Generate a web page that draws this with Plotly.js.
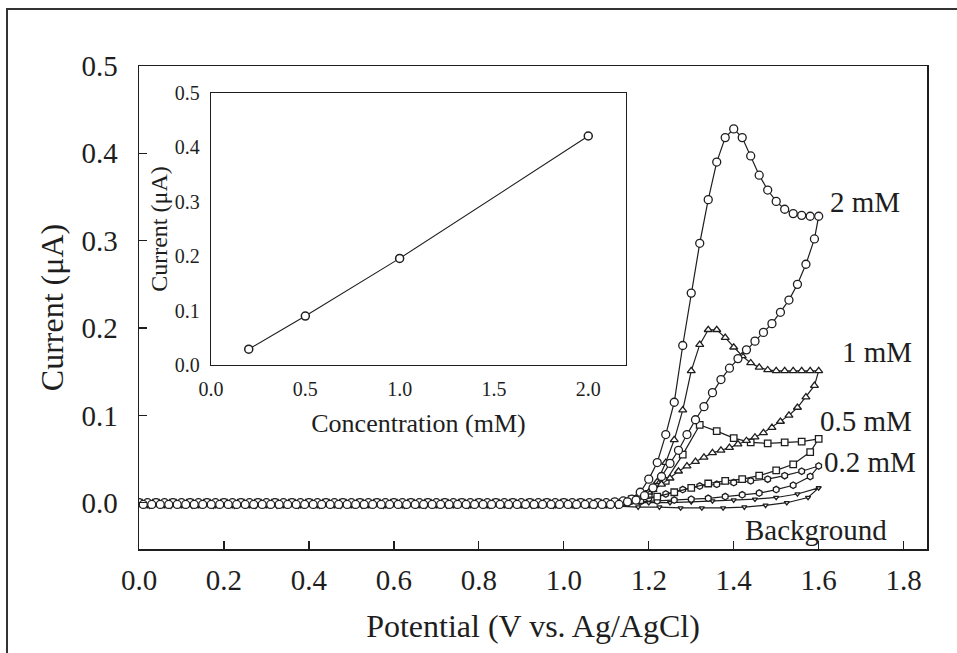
<!DOCTYPE html>
<html>
<head>
<meta charset="utf-8">
<script src="https://cdn.plot.ly/plotly-3.0.1.min.js"></script>
<style>
html,body{margin:0;padding:0;background:#fff;}
#chart{width:957px;height:653px;}
</style>
</head>
<body>
<div id="chart"></div>
<script>
// ---------- Potential sweeps (V vs. Ag/AgCl) ----------
const E_fwd_a = [0,0.02,0.04,0.06,0.08,0.1,0.12,0.14,0.16,0.18,0.2,0.22,0.24,0.26,0.28,0.3,0.32,0.34,0.36,0.38,0.4,0.42,0.44,0.46,0.48,0.5,0.52,0.54,0.56,0.58,0.6,0.62,0.64,0.66,0.68,0.7,0.72,0.74,0.76,0.78,0.8,0.82,0.84,0.86,0.88,0.9,0.92,0.94,0.96,0.98,1,1.02,1.04,1.06,1.08,1.1,1.12,1.14,1.16,1.18,1.2,1.22,1.24,1.26,1.28,1.3,1.32,1.34,1.36,1.38,1.4,1.42,1.44,1.46,1.48,1.5,1.52,1.54,1.56,1.58,1.6];
const E_rev_a = [1.59,1.57,1.55,1.53,1.51,1.49,1.47,1.45,1.43,1.41,1.39,1.37,1.35,1.33,1.31,1.29,1.27,1.25,1.23,1.21,1.19,1.17,1.15,1.13,1.11,1.09,1.07,1.05,1.03,1.01,0.99,0.97,0.95,0.93,0.91,0.89,0.87,0.85,0.83,0.81,0.79,0.77,0.75,0.73,0.71,0.69,0.67,0.65,0.63,0.61,0.59,0.57,0.55,0.53,0.51,0.49,0.47,0.45,0.43,0.41,0.39,0.37,0.35,0.33,0.31,0.29,0.27,0.25,0.23,0.21,0.19,0.17,0.15,0.13,0.11,0.09,0.07,0.05,0.03,0.01];
const E_fwd_b = [0,0.04,0.08,0.12,0.16,0.2,0.24,0.28,0.32,0.36,0.4,0.44,0.48,0.52,0.56,0.6,0.64,0.68,0.72,0.76,0.8,0.84,0.88,0.92,0.96,1,1.04,1.08,1.12,1.16,1.2,1.24,1.28,1.32,1.36,1.4,1.44,1.48,1.52,1.56,1.6];
const E_rev_b = [1.58,1.54,1.5,1.46,1.42,1.38,1.34,1.3,1.26,1.22,1.18,1.14,1.1,1.06,1.02,0.98,0.94,0.9,0.86,0.82,0.78,0.74,0.7,0.66,0.62,0.58,0.54,0.5,0.46,0.42,0.38,0.34,0.3,0.26,0.22,0.18,0.14,0.1,0.06,0.02];
const E_fwd_c = [0,0.05,0.1,0.15,0.2,0.25,0.3,0.35,0.4,0.45,0.5,0.55,0.6,0.65,0.7,0.75,0.8,0.85,0.9,0.95,1,1.05,1.1,1.15,1.2,1.25,1.3,1.35,1.4,1.45,1.5,1.55,1.6];
const E_rev_c = [1.575,1.525,1.475,1.425,1.375,1.325,1.275,1.225,1.175,1.125,1.075,1.025,0.975,0.925,0.875,0.825,0.775,0.725,0.675,0.625,0.575,0.525,0.475,0.425,0.375,0.325,0.275,0.225,0.175,0.125,0.075,0.025];

// ---------- Currents (uA) ----------
const I_2mM_fwd = [0,0,0,0,0,0,0,0, 0,0,0,0,0,0,0,0, 0,0,0,0,0,0,0,0, 0,0,0,0,0,0,0,0, 0,0,0,0,0,0,0,0, 0,0,0,0,0,0,0,0, 0,0,0,0,0,0,0,0,
  0.001,0.002,0.004,0.012,0.027,0.046,0.078,0.115,0.180,0.240,0.297,0.347,0.390,0.418,0.428,0.418,0.397,0.375,0.358,0.345,0.336,0.331,0.329,0.328,0.328];
const I_2mM_rev = [0.302,0.273,0.250,0.232,0.218,0.205,0.195,0.185,0.175,0.165,0.154,0.141,0.126,0.110,0.095,0.078,0.060,0.045,0.030,0.017,0.008,0.003,0.001,
  -0.002,-0.002,-0.002,-0.002,-0.002,-0.002,-0.002,-0.002, -0.002,-0.002,-0.002,-0.002,-0.002,-0.002,-0.002,-0.002, -0.002,-0.002,-0.002,-0.002,-0.002,-0.002,-0.002,-0.002,
  -0.002,-0.002,-0.002,-0.002,-0.002,-0.002,-0.002,-0.002, -0.002,-0.002,-0.002,-0.002,-0.002,-0.002,-0.002,-0.002, -0.002,-0.002,-0.002,-0.002,-0.002,-0.002,-0.002,-0.002,
  -0.002,-0.002,-0.002,-0.002,-0.002,-0.002,-0.002,-0.002, -0.002];
const I_1mM_fwd = [0,0,0,0,0,0,0,0, 0,0,0,0,0,0,0,0, 0,0,0,0,0,0,0,0, 0,0,0,0,0,0,0,0, 0,0,0,0,0,0,0,0, 0,0,0,0,0,0,0,0, 0,0,0,0,0,0,0,0,
  0.000,0.001,0.003,0.006,0.012,0.024,0.046,0.072,0.106,0.151,0.181,0.198,0.198,0.189,0.178,0.168,0.160,0.155,0.152,0.151,0.151,0.151,0.151,0.151,0.151];
const I_1mM_rev = [0.134,0.121,0.109,0.100,0.093,0.086,0.080,0.075,0.071,0.067,0.063,0.060,0.057,0.052,0.047,0.042,0.036,0.028,0.021,0.015,0.009,0.005,0.002,
  -0.002,-0.002,-0.002,-0.002,-0.002,-0.002,-0.002,-0.002, -0.002,-0.002,-0.002,-0.002,-0.002,-0.002,-0.002,-0.002, -0.002,-0.002,-0.002,-0.002,-0.002,-0.002,-0.002,-0.002,
  -0.002,-0.002,-0.002,-0.002,-0.002,-0.002,-0.002,-0.002, -0.002,-0.002,-0.002,-0.002,-0.002,-0.002,-0.002,-0.002, -0.002,-0.002,-0.002,-0.002,-0.002,-0.002,-0.002,-0.002,
  -0.002,-0.002,-0.002,-0.002,-0.002,-0.002,-0.002,-0.002, -0.002];
const I_05mM_fwd = [0,0,0,0,0,0,0,0, 0,0,0,0,0,0,0,0, 0,0,0,0,0,0,0,0, 0,0,0,0,0,
  0.004,0.010,0.025,0.055,0.089,0.082,0.074,0.069,0.068,0.069,0.070,0.073];
const I_05mM_rev = [0.058,0.044,0.037,0.031,0.027,0.025,0.022,0.017,0.012,0.007,0.003,0.001,
  -0.002,-0.002,-0.002,-0.002,-0.002,-0.002,-0.002,-0.002, -0.002,-0.002,-0.002,-0.002,-0.002,-0.002,-0.002,-0.002,
  -0.002,-0.002,-0.002,-0.002,-0.002,-0.002,-0.002,-0.002, -0.002,-0.002,-0.002,-0.002];
const I_02mM_fwd = [0,0,0,0,0,0,0,0, 0,0,0,0,0,0,0,0, 0,0,0,0,0,0,0,0, 0,0,0,0,0,
  0.002,0.005,0.010,0.015,0.019,0.021,0.023,0.025,0.027,0.031,0.036,0.042];
const I_02mM_rev = [0.030,0.020,0.015,0.011,0.009,0.007,0.005,0.004,0.003,0.002,0.001,0.000,
  -0.002,-0.002,-0.002,-0.002,-0.002,-0.002,-0.002,-0.002, -0.002,-0.002,-0.002,-0.002,-0.002,-0.002,-0.002,-0.002,
  -0.002,-0.002,-0.002,-0.002,-0.002,-0.002,-0.002,-0.002, -0.002,-0.002,-0.002,-0.002];
const I_bg_fwd = [0,0,0,0,0,0,0,0, 0,0,0,0,0,0,0,0, 0,0,0,0,0,0,0,0, 0,0,
  0.001,0.002,0.003,0.004,0.006,0.010,0.017];
const I_bg_rev = [0.006,0.000,-0.003,-0.005,-0.006,-0.006,-0.006,-0.005,-0.005,-0.004,
  -0.004,-0.004,-0.004,-0.004,-0.004,-0.004,-0.004,-0.004,-0.004,-0.004,-0.004,-0.004,
  -0.004,-0.004,-0.004,-0.004,-0.004,-0.004,-0.004,-0.004,-0.004,-0.004];

// ---------- Inset: peak current vs concentration ----------
const conc = [0.2, 0.5, 1.0, 2.0];
const peakCurrent = [0.029, 0.090, 0.196, 0.421];

// ---------- Curve labels ----------
const labelText = ["2 mM", "1 mM", "0.5 mM", "0.2 mM", "Background"];
const labelE = [1.622, 1.651, 1.599, 1.608, 1.422];
const labelI = [0.344, 0.173, 0.094, 0.047, -0.031];

const FONT = "Liberation Serif, Times New Roman, serif";
const INK = "#1e1e1e";

function cv(name, ef, ifw, er, irv, symbol, size) {
  return {
    type: "scatter", mode: "lines+markers", name: name,
    x: ef.concat(er), y: ifw.concat(irv),
    line: {color: INK, width: 1.2},
    marker: {symbol: symbol, size: size, color: "#fff", line: {color: INK, width: 1.3}},
    xaxis: "x", yaxis: "y", showlegend: false, cliponaxis: true
  };
}

const traces = [
  cv("Background", E_fwd_c, I_bg_fwd, E_rev_c, I_bg_rev, "triangle-down", 4.5),
  cv("0.2 mM", E_fwd_b, I_02mM_fwd, E_rev_b, I_02mM_rev, "hexagon", 6.5),
  cv("0.5 mM", E_fwd_b, I_05mM_fwd, E_rev_b, I_05mM_rev, "square", 6.5),
  cv("1 mM", E_fwd_a, I_1mM_fwd, E_rev_a, I_1mM_rev, "triangle-up", 7),
  cv("2 mM", E_fwd_a, I_2mM_fwd, E_rev_a, I_2mM_rev, "circle", 8),
  {
    type: "scatter", mode: "lines+markers", name: "Peak current",
    x: conc, y: peakCurrent, xaxis: "x2", yaxis: "y2", showlegend: false,
    line: {color: INK, width: 1.1},
    marker: {symbol: "circle", size: 8, color: "#fff", line: {color: INK, width: 1.5}}
  }
];

const annotations = labelText.map((t, i) => ({
  text: t, x: labelE[i], y: labelI[i], xref: "x", yref: "y",
  xanchor: "left", yanchor: "middle", showarrow: false,
  font: {family: FONT, size: 29, color: INK}
}));

const layout = {
  width: 957, height: 653,
  margin: {l: 139, r: 30, t: 66, b: 104},
  paper_bgcolor: "#fff", plot_bgcolor: "#fff",
  font: {family: FONT, color: INK},
  showlegend: false,
  xaxis: {
    range: [0, 1.855], tick0: 0, dtick: 0.2, tickformat: ".1f",
    ticks: "inside", ticklen: 8, tickcolor: INK, tickwidth: 1.3,
    showline: true, mirror: true, linecolor: INK, linewidth: 1.5,
    showgrid: false, zeroline: false,
    tickfont: {family: FONT, size: 29, color: INK}, ticklabelstandoff: 5,
    title: {text: "Potential (V vs. Ag/AgCl)", font: {family: FONT, size: 32, color: INK}, standoff: 19}
  },
  yaxis: {
    range: [-0.053, 0.5], tick0: 0, dtick: 0.1, tickformat: ".1f",
    ticks: "inside", ticklen: 8, tickcolor: INK, tickwidth: 1.3,
    showline: true, mirror: true, linecolor: INK, linewidth: 1.5,
    showgrid: false, zeroline: false,
    tickfont: {family: FONT, size: 29, color: INK}, ticklabelstandoff: 14,
    title: {text: "Current (μA)", font: {family: FONT, size: 32, color: INK}, standoff: 8}
  },
  xaxis2: {
    domain: [0.0914, 0.618], anchor: "y2", range: [0, 2.2], tick0: 0, dtick: 0.5, tickformat: ".1f",
    ticks: "", showline: true, mirror: true, linecolor: INK, linewidth: 1.2,
    showgrid: false, zeroline: false,
    tickfont: {family: FONT, size: 20, color: INK}, ticklabelstandoff: 6,
    title: {text: "Concentration (mM)", font: {family: FONT, size: 26, color: INK}, standoff: 14}
  },
  yaxis2: {
    domain: [0.381, 0.944], anchor: "x2", range: [0, 0.5], tick0: 0, dtick: 0.1, tickformat: ".1f",
    ticks: "", showline: true, mirror: true, linecolor: INK, linewidth: 1.2,
    showgrid: false, zeroline: false,
    tickfont: {family: FONT, size: 20, color: INK}, ticklabelstandoff: 6,
    title: {text: "Current (μA)", font: {family: FONT, size: 24, color: INK}, standoff: 0}
  },
  annotations: annotations,
  shapes: [{
    type: "rect", xref: "paper", yref: "paper",
    x0: -0.1675, x1: 1.06, y0: -0.25, y1: 1.118,
    line: {color: "#333", width: 2}, layer: "below"
  }]
};

Plotly.newPlot("chart", traces, layout, {staticPlot: true, displayModeBar: false});
</script>
</body>
</html>
